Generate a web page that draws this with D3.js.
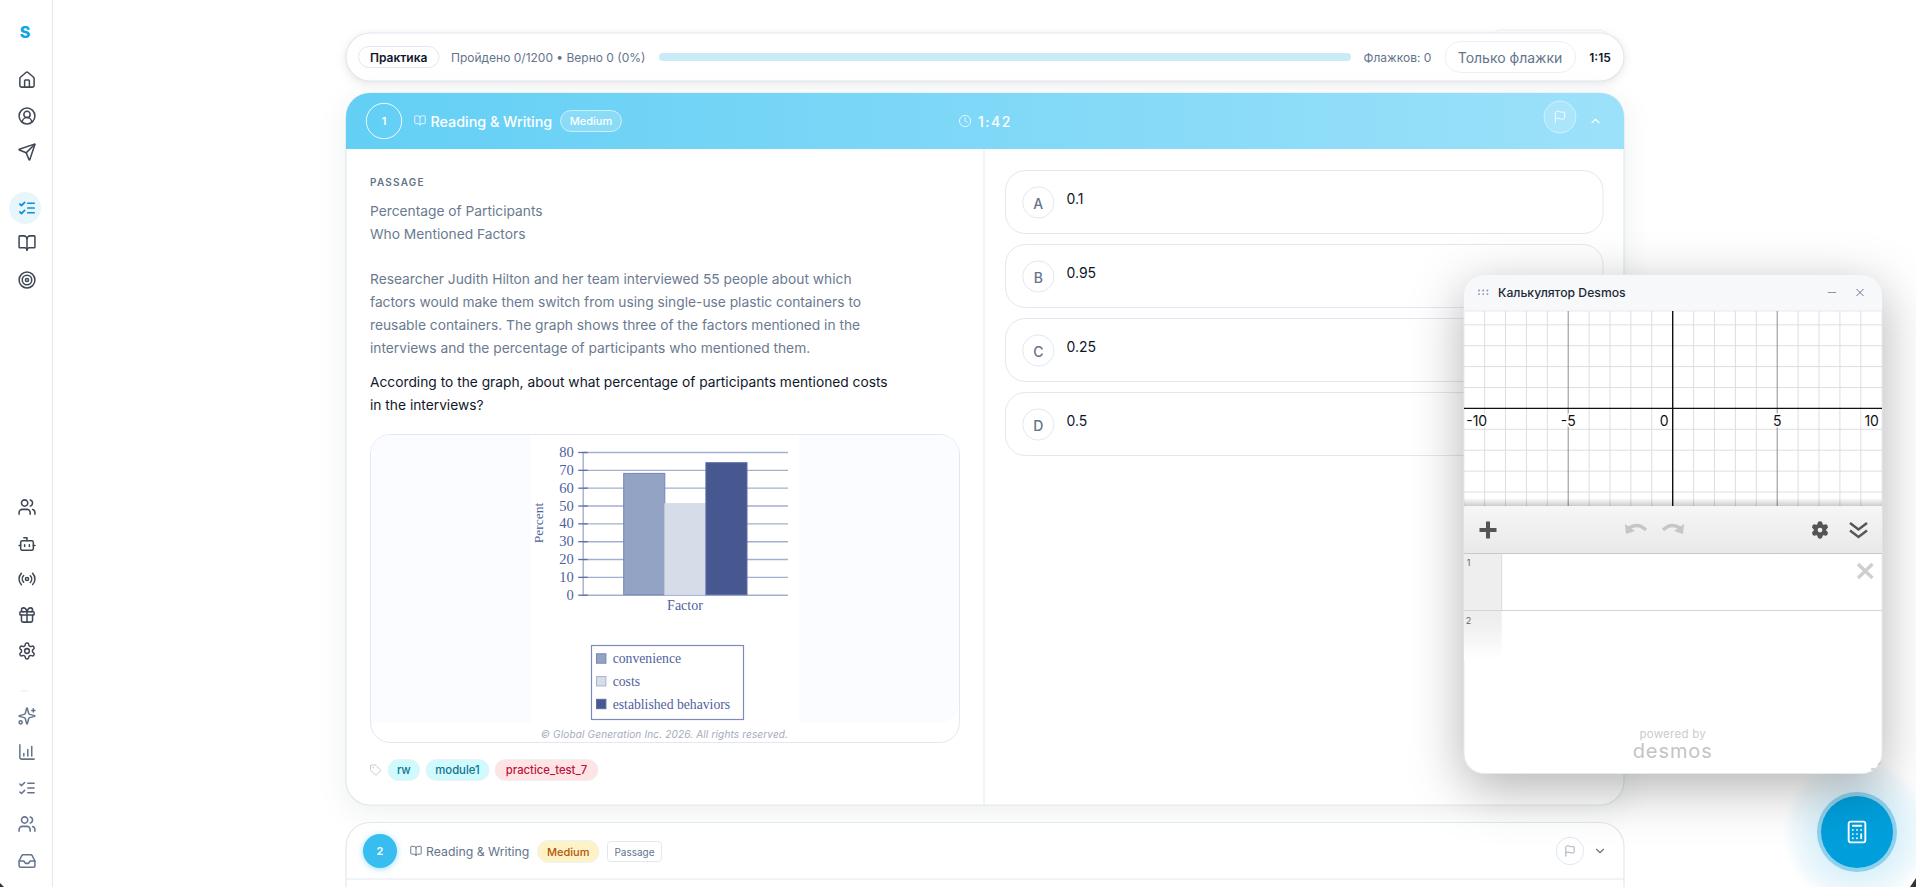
<!DOCTYPE html>
<html>
<head>
<meta charset="utf-8">
<script src="https://cdn.jsdelivr.net/npm/d3@7"></script>
<style>
  html, body { margin: 0; padding: 0; background: #fff; overflow: hidden; }
  svg { display: block; }
  text { font-family: Inter, "Noto Sans", sans-serif; }
  .serif text, text.serif { font-family: "Liberation Serif", serif; }
</style>
</head>
<body>
<div id="page"></div>
<script>
// chart data
const factors = ['convenience', 'costs', 'established behaviors'];
const percents = [68, 51, 74];
const factorColors = ['#93a3c4', '#d6dce8', '#47578f'];
const factorStrokes = ['#7686b4', '#d0d7e6', '#5c6ca4'];
const percentTicks = [0, 10, 20, 30, 40, 50, 60, 70, 80];

// desmos grid
const graphUnits = d3.range(-10, 11);
const graphLabels = [-10, -5, 0, 5, 10];
const graphRows = [-4, -3, -2, -1, 0, 1, 2, 3, 4];

// page text
const passageLines = [
  ['Percentage of Participants', 211.3], ['Who Mentioned Factors', 234.3],
  ['Researcher Judith Hilton and her team interviewed 55 people about which', 279.3],
  ['factors would make them switch from using single-use plastic containers to', 302.3],
  ['reusable containers. The graph shows three of the factors mentioned in the', 325.3],
  ['interviews and the percentage of participants who mentioned them.', 348.3]
];
const questionLines = [
  ['According to the graph, about what percentage of participants mentioned costs', 382.3],
  ['in the interviews?', 405.3]
];
const options = [['A', '0.1'], ['B', '0.95'], ['C', '0.25'], ['D', '0.5']];
const tags = [
  ['rw', 388, 419.6, '#cffafe', '#0e7490'],
  ['module1', 426, 489, '#cffafe', '#0e7490'],
  ['practice_test_7', 495, 598, '#ffe4e6', '#be123c']
];

const W = 1916, H = 887;
const svg = d3.select('#page').append('svg').attr('width', W).attr('height', H);
const defs = svg.append('defs');

function linGrad(id, stops, x2, y2) {
  const g = defs.append('linearGradient').attr('id', id)
    .attr('x1', 0).attr('y1', 0).attr('x2', x2).attr('y2', y2);
  stops.forEach(s => g.append('stop').attr('offset', s[0]).attr('stop-color', s[1]).attr('stop-opacity', s[2] === undefined ? 1 : s[2]));
}
linGrad('headGrad', [[0, '#63cff5'], [1, '#9ce1fa']], 1, 0);
linGrad('toolGrad', [[0, '#f6f6f6'], [1, '#e9e9e9']], 0, 1);
linGrad('gutterGrad', [[0, '#eeeeee'], [0.62, '#eeeeee'], [1, '#ffffff']], 0, 1);
linGrad('shadeGrad', [[0, '#000', 0], [1, '#000', 0.2]], 0, 1);
const halo = defs.append('radialGradient').attr('id', 'haloGrad');
halo.append('stop').attr('offset', 0.5).attr('stop-color', '#d5eff9').attr('stop-opacity', 0.9);
halo.append('stop').attr('offset', 0.85).attr('stop-color', '#eef8fc').attr('stop-opacity', 0.8);
halo.append('stop').attr('offset', 1).attr('stop-color', '#f4fbfe').attr('stop-opacity', 0);

function text(parent, s, x, y, size, color, opts = {}) {
  return parent.append('text')
    .attr('x', x).attr('y', y)
    .attr('dominant-baseline', 'central')
    .attr('text-anchor', opts.anchor || 'start')
    .attr('font-size', size)
    .attr('font-weight', opts.weight || 400)
    .attr('font-style', opts.italic ? 'italic' : null)
    .attr('letter-spacing', opts.spacing || null)
    .attr('fill', color)
    .text(s);
}
function box(parent, x0, y0, x1, y1, r, fill, stroke, sw) {
  return parent.append('rect')
    .attr('x', x0).attr('y', y0).attr('width', x1 - x0).attr('height', y1 - y0)
    .attr('rx', r).attr('fill', fill).attr('stroke', stroke || 'none').attr('stroke-width', sw || 1);
}
function ring(cx, cy, r) {
  return `M${cx - r} ${cy}a${r} ${r} 0 1 0 ${2 * r} 0a${r} ${r} 0 1 0 ${-2 * r} 0`;
}

// lucide style icons on a 24 box
const icons = {
  home: ['M15 21v-8a1 1 0 0 0-1-1h-4a1 1 0 0 0-1 1v8', 'M3 10a2 2 0 0 1 .709-1.528l7-5.999a2 2 0 0 1 2.582 0l7 5.999A2 2 0 0 1 21 10v9a2 2 0 0 1-2 2H5a2 2 0 0 1-2-2z'],
  user: ['M18 20a6 6 0 0 0-12 0', ring(12, 10, 4), ring(12, 12, 10)],
  send: ['M14.536 21.686a.5.5 0 0 0 .937-.024l6.5-19a.496.496 0 0 0-.635-.635l-19 6.5a.5.5 0 0 0-.024.937l7.93 3.18a2 2 0 0 1 1.112 1.11z', 'm21.854 2.147-10.94 10.939'],
  checks: ['m3 17 2 2 4-4', 'm3 7 2 2 4-4', 'M13 6h8', 'M13 12h8', 'M13 18h8'],
  book: ['M12 7v14', 'M3 18a1 1 0 0 1-1-1V4a1 1 0 0 1 1-1h5a4 4 0 0 1 4 4 4 4 0 0 1 4-4h5a1 1 0 0 1 1 1v13a1 1 0 0 1-1 1h-6a3 3 0 0 0-3 3 3 3 0 0 0-3-3z'],
  target: [ring(12, 12, 10), ring(12, 12, 6), ring(12, 12, 2)],
  users: ['M16 21v-2a4 4 0 0 0-4-4H6a4 4 0 0 0-4 4v2', 'M16 3.128a4 4 0 0 1 0 7.744', 'M22 21v-2a4 4 0 0 0-3-3.87', ring(9, 7, 4)],
  bot: ['M12 8V4H8', 'M6 8h12a2 2 0 0 1 2 2v8a2 2 0 0 1-2 2H6a2 2 0 0 1-2-2v-8a2 2 0 0 1 2-2z', 'M2 14h2', 'M20 14h2', 'M15 13v2', 'M9 13v2'],
  radio: ['M4.9 19.1C1 15.2 1 8.8 4.9 4.9', 'M7.8 16.2c-2.3-2.3-2.3-6.1 0-8.5', ring(12, 12, 2), 'M16.2 7.8c2.3 2.3 2.3 6.1 0 8.5', 'M19.1 4.9C23 8.8 23 15.1 19.1 19'],
  gift: ['M4 8h16a1 1 0 0 1 1 1v2a1 1 0 0 1-1 1H4a1 1 0 0 1-1-1V9a1 1 0 0 1 1-1z', 'M12 8v13', 'M19 12v7a2 2 0 0 1-2 2H7a2 2 0 0 1-2-2v-7', 'M7.5 8a2.5 2.5 0 0 1 0-5A4.8 8 0 0 1 12 8a4.8 8 0 0 1 4.5-5 2.5 2.5 0 0 1 0 5'],
  gear: ['M12.22 2h-.44a2 2 0 0 0-2 2v.18a2 2 0 0 1-1 1.73l-.43.25a2 2 0 0 1-2 0l-.15-.08a2 2 0 0 0-2.73.73l-.22.38a2 2 0 0 0 .73 2.73l.15.1a2 2 0 0 1 1 1.72v.51a2 2 0 0 1-1 1.74l-.15.09a2 2 0 0 0-.73 2.73l.22.38a2 2 0 0 0 2.73.73l.15-.08a2 2 0 0 1 2 0l.43.25a2 2 0 0 1 1 1.73V20a2 2 0 0 0 2 2h.44a2 2 0 0 0 2-2v-.18a2 2 0 0 1 1-1.73l.43-.25a2 2 0 0 1 2 0l.15.08a2 2 0 0 0 2.73-.73l.22-.39a2 2 0 0 0-.73-2.73l-.15-.08a2 2 0 0 1-1-1.74v-.5a2 2 0 0 1 1-1.74l.15-.09a2 2 0 0 0 .73-2.73l-.22-.38a2 2 0 0 0-2.73-.73l-.15.08a2 2 0 0 1-2 0l-.43-.25a2 2 0 0 1-1-1.73V4a2 2 0 0 0-2-2z', ring(12, 12, 3)],
  sparkles: ['M9.937 15.5A2 2 0 0 0 8.5 14.063l-6.135-1.582a.5.5 0 0 1 0-.962L8.5 9.936A2 2 0 0 0 9.937 8.5l1.582-6.135a.5.5 0 0 1 .963 0L14.063 8.5A2 2 0 0 0 15.5 9.937l6.135 1.581a.5.5 0 0 1 0 .964L15.5 14.063a2 2 0 0 0-1.437 1.437l-1.582 6.135a.5.5 0 0 1-.963 0z', 'M20 3v4', 'M22 5h-4', ring(4, 20, 2)],
  bars: ['M3 3v16a2 2 0 0 0 2 2h16', 'M8 17v-3', 'M13 17V9', 'M18 17V5'],
  inbox: ['M22 12h-6l-2 3h-4l-2-3H2', 'M5.45 5.11 2 12v6a2 2 0 0 0 2 2h16a2 2 0 0 0 2-2v-6l-3.45-6.89A2 2 0 0 0 16.76 4H7.24a2 2 0 0 0-1.79 1.11z'],
  tag: ['M12.586 2.586A2 2 0 0 0 11.172 2H4a2 2 0 0 0-2 2v7.172a2 2 0 0 0 .586 1.414l8.704 8.704a2.426 2.426 0 0 0 3.42 0l6.58-6.58a2.426 2.426 0 0 0 0-3.42z', ring(7.5, 7.5, 0.5)],
  flag: ['M4 22V4a1 1 0 0 1 .4-.8A6 6 0 0 1 8 2c3 0 5 2 7.333 2q2 0 3.067-.8A1 1 0 0 1 20 4v10a1 1 0 0 1-.4.8A6 6 0 0 1 16 16c-3 0-5-2-8-2a6 6 0 0 0-4 1.528'],
  clock: [ring(12, 12, 10), 'M12 6v6l4 2'],
  up: ['m18 15-6-6-6 6'],
  down: ['m6 9 6 6 6-6'],
  x: ['M18 6 6 18', 'm6 6 12 12'],
  minus: ['M5 12h14'],
  calc: ['M6 2h12a2 2 0 0 1 2 2v16a2 2 0 0 1-2 2H6a2 2 0 0 1-2-2V4a2 2 0 0 1 2-2z', 'M8 6h8', 'M16 14v4', 'M16 10h.01', 'M12 10h.01', 'M8 10h.01', 'M12 14h.01', 'M8 14h.01', 'M12 18h.01', 'M8 18h.01']
};
function icon(parent, name, cx, cy, size, color, sw = 2, opacity = 1) {
  const k = size / 24;
  const g = parent.append('g')
    .attr('transform', `translate(${cx - size / 2},${cy - size / 2}) scale(${k})`)
    .attr('fill', 'none').attr('stroke', color).attr('stroke-width', sw)
    .attr('stroke-linecap', 'round').attr('stroke-linejoin', 'round').attr('opacity', opacity);
  g.selectAll('path').data(icons[name]).join('path').attr('d', d => d);
  return g;
}

// sidebar
const side = svg.append('g');
side.append('line').attr('x1', 52.5).attr('x2', 52.5).attr('y1', 0).attr('y2', H).attr('stroke', '#e2e8f0');
text(side, 'S', 25, 32, 16, '#0ea5e9', { anchor: 'middle', weight: 800 });
side.append('ellipse').attr('cx', 25).attr('cy', 208).attr('rx', 16).attr('ry', 16).attr('fill', '#e8f5fc');
[['home', 80], ['user', 116], ['send', 152], ['book', 243], ['target', 280],
 ['users', 507], ['bot', 544], ['radio', 579], ['gift', 615], ['gear', 651]]
  .forEach(d => icon(side, d[0], 27, d[1], 19, '#3f4654', 1.9));
icon(side, 'checks', 27, 208, 19, '#0a92d4', 2.2);
side.append('line').attr('x1', 21).attr('x2', 28).attr('y1', 691).attr('y2', 691).attr('stroke', '#e5e9f0');
[['sparkles', 716], ['bars', 752], ['checks', 788], ['users', 824], ['inbox', 861]]
  .forEach(d => icon(side, d[0], 27, d[1], 19, '#64748b', 1.9));

// top progress bar
const shadow = 'drop-shadow(0 2px 4px rgba(15,23,42,.10))';
box(svg, 1491, 30, 1609, 50, 10, '#fff', '#eef1f6');
box(svg, 346, 33, 1624, 81, 24, '#fff', '#e2e8f0', 1.2).style('filter', shadow);
box(svg, 358.5, 46.5, 439, 67.5, 10.5, '#fff', '#e2e8f0');
text(svg, 'Практика', 398.7, 57, 12, '#0f172a', { anchor: 'middle', weight: 600 });
text(svg, 'Пройдено 0/1200 • Верно 0 (0%)', 451, 57, 12, '#64748b');
box(svg, 659, 53, 1351, 61, 4, '#c9ebf7');
text(svg, 'Флажков: 0', 1363.5, 57, 12, '#64748b');
box(svg, 1445, 41.5, 1575.5, 72.5, 15.5, '#fff', '#eceff4');
text(svg, 'Только флажки', 1510, 57.5, 14, '#64748b', { anchor: 'middle' });
text(svg, '1:15', 1600, 57, 12, '#0f172a', { anchor: 'middle', weight: 600 });

// question card 1
box(svg, 346, 93, 1624, 805, 24, '#fff', '#e2e8f0', 1.2).style('filter', 'drop-shadow(0 6px 14px rgba(15,23,42,.07))');
svg.append('path')
  .attr('d', 'M346 149V117a24 24 0 0 1 24-24H1600a24 24 0 0 1 24 24V149Z')
  .attr('fill', 'url(#headGrad)');
svg.append('circle').attr('cx', 384).attr('cy', 121).attr('r', 17.7)
  .attr('fill', 'none').attr('stroke', '#fff').attr('stroke-opacity', 0.9);
text(svg, '1', 384, 121, 11, '#fff', { anchor: 'middle', weight: 600 });
icon(svg, 'book', 420, 120.5, 12.5, '#fff', 1.8, 0.85);
text(svg, 'Reading & Writing', 430.5, 121, 14.3, '#fff', { weight: 500 });
box(svg, 560.5, 110.5, 621.5, 131.5, 10.5, 'rgba(255,255,255,.2)', 'rgba(255,255,255,.6)');
text(svg, 'Medium', 591, 121, 11, '#fff', { anchor: 'middle', weight: 500 });
icon(svg, 'clock', 965, 121, 13.5, '#fff', 1.6, 0.85);
text(svg, '1:42', 978, 121, 14, '#fff', { weight: 500, spacing: 1.5 });
svg.append('circle').attr('cx', 1560).attr('cy', 117).attr('r', 16)
  .attr('fill', 'rgba(255,255,255,.18)').attr('stroke', 'rgba(255,255,255,.45)');
icon(svg, 'flag', 1560, 117, 14, '#fff', 1.7, 0.85);
icon(svg, 'up', 1595.5, 121, 14, '#fff', 1.9, 1);
svg.append('line').attr('x1', 984).attr('x2', 984).attr('y1', 149).attr('y2', 805).attr('stroke', '#e2e8f0');

// passage
text(svg, 'PASSAGE', 370, 181.7, 10, '#64748b', { weight: 600, spacing: 1.25 });
svg.append('g').selectAll('text').data(passageLines).join('text')
  .attr('x', 370).attr('y', d => d[1]).attr('dominant-baseline', 'central')
  .attr('font-size', 13.78).attr('fill', '#6b7a90').text(d => d[0]);
svg.append('g').selectAll('text').data(questionLines).join('text')
  .attr('x', 370).attr('y', d => d[1]).attr('dominant-baseline', 'central')
  .attr('font-size', 13.78).attr('fill', '#0f172a').text(d => d[0]);

// figure frame
box(svg, 370.5, 434.5, 959.5, 742.5, 20, '#fff', '#e2e8f0');
svg.append('path')
  .attr('d', 'M371 723V454a19 19 0 0 1 19-19H940a19 19 0 0 1 19 19V704a19 19 0 0 1-19 19Z')
  .attr('fill', '#fafcff');
svg.append('rect').attr('x', 530.6).attr('y', 435).attr('width', 268.4).attr('height', 288).attr('fill', '#fff');
text(svg, '© Global Generation Inc. 2026. All rights reserved.', 664.5, 734, 10, '#a3abb9',
  { anchor: 'middle', italic: true, spacing: 0.16 });

// bar chart
const chart = svg.append('g').attr('class', 'serif');
const inkColor = '#4f5f9e';
const yScale = d3.scaleLinear().domain([0, 80]).range([594.7, 452]);
const xScale = d3.scaleBand().domain(factors).range([623.7, 747]);
const axisX = 582.7, gridEnd = 788;

const grid = chart.append('g').attr('transform', `translate(${axisX},0)`)
  .call(d3.axisRight(yScale).tickValues(percentTicks).tickSize(gridEnd - axisX).tickFormat(''));
grid.select('.domain').remove();
grid.selectAll('line').attr('stroke', '#a4afd0').attr('stroke-width', 1.4);

chart.selectAll('rect.bar').data(percents).join('rect')
  .attr('class', 'bar')
  .attr('x', (d, i) => xScale(factors[i]))
  .attr('y', d => yScale(d))
  .attr('width', xScale.bandwidth())
  .attr('height', d => yScale(0) - yScale(d))
  .attr('fill', (d, i) => factorColors[i])
  .attr('stroke', (d, i) => factorStrokes[i])
  .attr('stroke-width', 1);

const yAxis = chart.append('g').attr('transform', `translate(${axisX},0)`)
  .call(d3.axisLeft(yScale).tickValues(percentTicks).tickSizeInner(4.5).tickSizeOuter(0).tickPadding(4.5));
yAxis.select('.domain').attr('stroke', '#a4afd0').attr('stroke-width', 1.4);
yAxis.selectAll('line').attr('stroke', '#5d6da6').attr('stroke-width', 1.3).attr('x2', 5).attr('x1', -4.5);
yAxis.selectAll('text').attr('font-family', '"Liberation Serif", serif').attr('font-size', 14.5).attr('fill', inkColor);

text(chart, 'Factor', 685, 605, 14, inkColor, { anchor: 'middle' });
text(chart, 'Percent', 0, 0, 13.5, inkColor, { anchor: 'middle' })
  .attr('transform', 'translate(538.5,523) rotate(-90)');

// legend
box(chart, 591.5, 645.5, 743.5, 719.5, 0, '#fff', '#7c8bbb', 1.2);
const legendY = d3.scalePoint().domain(factors).range([658.5, 704]);
chart.selectAll('rect.swatch').data(factors).join('rect')
  .attr('class', 'swatch')
  .attr('x', 596.5).attr('y', d => legendY(d) - 4.7).attr('width', 9.4).attr('height', 9.4)
  .attr('fill', (d, i) => factorColors[i]).attr('stroke', (d, i) => i === 1 ? '#a9b4d0' : factorStrokes[i]);
chart.selectAll('text.legend').data(factors).join('text')
  .attr('class', 'legend')
  .attr('x', 612.7).attr('y', d => legendY(d)).attr('dominant-baseline', 'central')
  .attr('font-size', 13.7).attr('fill', inkColor).text(d => d);

// tags
icon(svg, 'tag', 375.5, 770, 12, '#b6bec9', 1.7);
tags.forEach(t => {
  box(svg, t[1], 759.5, t[2], 780.5, 10.5, t[3], '#eef1f5');
  text(svg, t[0], (t[1] + t[2]) / 2, 770, 11.3, t[4], { anchor: 'middle', weight: 500 });
});

// answer options
const optionY = d3.scalePoint().domain(options.map(d => d[0])).range([170.5, 392.5]);
options.forEach(o => {
  const top = optionY(o[0]);
  box(svg, 1005.5, top, 1603, top + 63, 20, '#fff', '#e2e8f0');
  svg.append('circle').attr('cx', 1038.3).attr('cy', top + 32).attr('r', 15.6)
    .attr('fill', '#fff').attr('stroke', '#e2e8f0');
  text(svg, o[0], 1038.3, top + 32.5, 14, '#64748b', { anchor: 'middle', weight: 500 });
  text(svg, o[1], 1066.5, top + 27.5, 14, '#0f172a');
});

// question card 2
box(svg, 346, 822.5, 1624, 960, 24, '#fff', '#e2e8f0', 1.2);
svg.append('line').attr('x1', 346).attr('x2', 1624).attr('y1', 879).attr('y2', 879).attr('stroke', '#e2e8f0');
svg.append('circle').attr('cx', 380).attr('cy', 851).attr('r', 17).attr('fill', '#38bdf0')
  .style('filter', 'drop-shadow(0 1px 3px rgba(56,189,240,.5))');
text(svg, '2', 380, 851, 11, '#fff', { anchor: 'middle', weight: 600 });
icon(svg, 'book', 416, 851, 12.5, '#64748b', 1.8);
text(svg, 'Reading & Writing', 426, 851, 12.3, '#64748b');
box(svg, 537.5, 840.5, 599, 862.5, 11, '#fef3c7', '#eef1f5');
text(svg, 'Medium', 568.2, 851.5, 11, '#b45309', { anchor: 'middle', weight: 500 });
box(svg, 607.5, 841.5, 661.5, 861.5, 3.5, '#fff', '#e2e8f0');
text(svg, 'Passage', 634.5, 851.5, 10, '#64748b', { anchor: 'middle' });
svg.append('circle').attr('cx', 1570).attr('cy', 851).attr('r', 13.7).attr('fill', '#fff').attr('stroke', '#e2e8f0');
icon(svg, 'flag', 1570, 851, 12.5, '#94a3b8', 1.7);
icon(svg, 'down', 1600, 851, 14, '#64748b', 1.9);

// floating button
svg.append('circle').attr('cx', 1857).attr('cy', 832).attr('r', 76).attr('fill', 'url(#haloGrad)');
svg.append('circle').attr('cx', 1857).attr('cy', 832).attr('r', 40).attr('fill', '#8fd0ec');
svg.append('circle').attr('cx', 1857).attr('cy', 832).attr('r', 36).attr('fill', '#009fdc');
icon(svg, 'calc', 1857, 832, 25, '#fff', 1.8);

// desmos window
const calc = svg.append('g');
box(calc, 1464, 275, 1882, 773.5, 20, '#fff', '#e5e9f0')
  .style('filter', 'drop-shadow(0 14px 26px rgba(0,0,0,.3))');
calc.append('path').attr('d', 'M1464 311V295a20 20 0 0 1 20-20H1862a20 20 0 0 1 20 20V311Z').attr('fill', '#f7f8fa');
calc.append('line').attr('x1', 1464).attr('x2', 1882).attr('y1', 311).attr('y2', 311).attr('stroke', '#e5e9f0');
[0, 1].forEach(r => [0, 1, 2].forEach(c => {
  calc.append('circle').attr('cx', 1479 + c * 4.2).attr('cy', 290.5 + r * 3.6).attr('r', 0.95).attr('fill', '#8792a6');
}));
text(calc, 'Калькулятор Desmos', 1498, 292.4, 12.2, '#1e293b', { weight: 500 });
icon(calc, 'minus', 1832, 292.5, 13, '#8a93a3', 1.8);
icon(calc, 'x', 1860, 292.5, 13, '#64748b', 1.8);

const gx = d3.scaleLinear().domain([-10, 10]).range([1463.7, 1881.7]);
const gy = d3.scaleLinear().domain([-5, 5]).range([408.4 + 104.5, 408.4 - 104.5]);
const graph = calc.append('g');
graph.selectAll('line.vminor').data(graphUnits.filter(d => d % 5 !== 0)).join('line')
  .attr('class', 'vminor').attr('x1', gx).attr('x2', gx).attr('y1', 311).attr('y2', 506)
  .attr('stroke', '#dedede');
graph.selectAll('line.hminor').data(graphRows.filter(d => d !== 0)).join('line')
  .attr('class', 'hminor').attr('y1', gy).attr('y2', gy).attr('x1', 1464).attr('x2', 1882)
  .attr('stroke', '#dedede');
graph.selectAll('line.vmajor').data([-5, 5]).join('line')
  .attr('class', 'vmajor').attr('x1', gx).attr('x2', gx).attr('y1', 311).attr('y2', 506)
  .attr('stroke', '#8f8f8f');
graph.append('line').attr('x1', gx(0)).attr('x2', gx(0)).attr('y1', 311).attr('y2', 506).attr('stroke', '#111').attr('stroke-width', 1.4);
graph.append('line').attr('y1', gy(0)).attr('y2', gy(0)).attr('x1', 1464).attr('x2', 1882).attr('stroke', '#111').attr('stroke-width', 1.4);
graphLabels.forEach(v => {
  const x = v === 0 ? gx(0) - 8.5 : v === -10 ? gx(v) + 13 : v === 10 ? gx(v) - 10 : gx(v);
  text(graph, d3.format('d')(v).replace('−', '-'), x, 420, 14, '#111', { anchor: 'middle' })
    .attr('font-family', '"Liberation Sans", Arial, sans-serif')
    .attr('stroke', '#fff').attr('stroke-width', 3).attr('paint-order', 'stroke');
});

// desmos toolbar
calc.append('rect').attr('x', 1464).attr('y', 498).attr('width', 418).attr('height', 8).attr('fill', 'url(#shadeGrad)');
calc.append('rect').attr('x', 1464).attr('y', 506).attr('width', 418).attr('height', 47).attr('fill', 'url(#toolGrad)');
calc.append('line').attr('x1', 1464).attr('x2', 1882).attr('y1', 553.5).attr('y2', 553.5).attr('stroke', '#c8c8c8');
calc.append('path').attr('d', 'M1488 521.5v17M1479.500 530h17').attr('stroke', '#555').attr('stroke-width', 4).attr('fill', 'none');
const arrowG = calc.append('g').attr('fill', 'none').attr('stroke', '#c6c6c6').attr('stroke-width', 3.4);
arrowG.append('path').attr('d', 'M1646 530c-5-5-11-6-17-2');
arrowG.append('path').attr('d', 'M1663 530c5-5 11-6 17-2');
calc.append('path').attr('d', 'M1625 524l1 10 9-3zM1684 524l-1 10-9-3z').attr('fill', '#c6c6c6');
const gearG = icon(calc, 'gear', 1820, 530, 19, '#555', 2);
gearG.selectAll('path').filter((d, i) => i === 0).attr('fill', '#555');
gearG.selectAll('path').filter((d, i) => i === 1).attr('fill', '#f0f0f0').attr('stroke', 'none');
calc.append('path').attr('d', 'M1850 523l8.500 6.500 8.500-6.500M1850 530.500l8.500 6.500 8.500-6.500')
  .attr('fill', 'none').attr('stroke', '#555').attr('stroke-width', 2.4);

// expression list
calc.append('rect').attr('x', 1464).attr('y', 554).attr('width', 37.7).attr('height', 106).attr('fill', 'url(#gutterGrad)');
calc.append('line').attr('x1', 1464).attr('x2', 1882).attr('y1', 610.5).attr('y2', 610.5).attr('stroke', '#d4d4d4');
calc.append('line').attr('x1', 1501.7).attr('x2', 1501.7).attr('y1', 554).attr('y2', 610).attr('stroke', '#dcdcdc');
text(calc, '1', 1468.5, 562, 9, '#666', { anchor: 'middle' }).attr('font-family', '"Liberation Sans", sans-serif');
text(calc, '2', 1468.5, 620, 9, '#666', { anchor: 'middle' }).attr('font-family', '"Liberation Sans", sans-serif');
calc.append('path').attr('d', 'M1858 564l14.500 14M1872.500 564l-14.500 14').attr('stroke', '#cfcfcf').attr('stroke-width', 3.4).attr('fill', 'none');

text(calc, 'powered by', 1672.7, 733.500, 11.5, '#cccccc', { anchor: 'middle', spacing: 0.25 }).attr('font-family', '"Liberation Sans", sans-serif');
text(calc, 'desmos', 1672.7, 751, 20, '#c4c4c4', { anchor: 'middle', spacing: 0.9 }).attr('font-family', '"Liberation Sans", sans-serif');
calc.append('path').attr('d', 'M1871 769h4M1878 765l3-3').attr('stroke', '#c9c9c9').attr('stroke-width', 1.5).attr('fill', 'none');

// dark window corners in the screenshot
svg.append('path').attr('d', `M0 883L4 ${H}H0Z`).attr('fill', '#333');
svg.append('path').attr('d', `M${W} 878L${W - 6} ${H}H${W}Z`).attr('fill', '#333');
</script>
</body>
</html>
